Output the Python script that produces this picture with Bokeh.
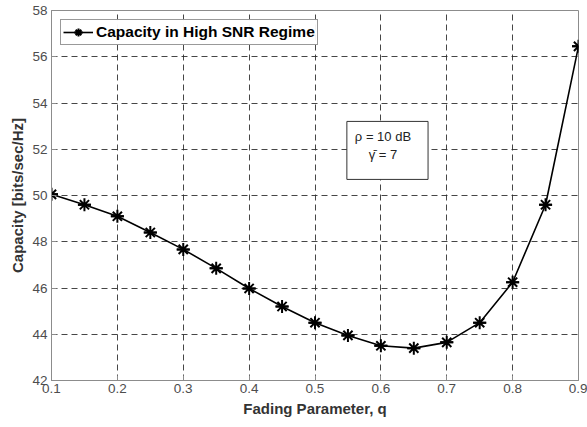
from bokeh.plotting import figure
from bokeh.models import ColumnDataSource, Legend, LegendItem, Label, FixedTicker, Range1d
from bokeh.embed import file_html
from bokeh.resources import INLINE

q = [0.1, 0.15, 0.2, 0.25, 0.3, 0.35, 0.4, 0.45, 0.5, 0.55, 0.6, 0.65, 0.7, 0.75, 0.8, 0.85, 0.9]
capacity = [50.05, 49.6, 49.1, 48.4, 47.67, 46.85, 45.98, 45.2, 44.5, 43.95, 43.5, 43.4, 43.65, 44.5, 46.25, 49.6, 56.45]
x_ticks = [0.1, 0.2, 0.3, 0.4, 0.5, 0.6, 0.7, 0.8, 0.9]
y_ticks = [42, 44, 46, 48, 50, 52, 54, 56, 58]

FONT = "Liberation Sans"

p = figure(width=587, height=427, output_backend="svg", toolbar_location=None,
           x_range=Range1d(0.1, 0.9), y_range=Range1d(42, 58),
           min_border_left=51, min_border_right=9, min_border_top=10, min_border_bottom=47)
p.background_fill_color = "white"
p.border_fill_color = "white"
p.outline_line_color = "#8c8c8c"
p.outline_line_width = 1

src = ColumnDataSource(dict(q=q, c=capacity))
line = p.line("q", "c", source=src, line_color="black", line_width=1.6)
m1 = p.scatter("q", "c", source=src, marker="asterisk", size=13, line_color="black", line_width=2)
m2 = p.scatter("q", "c", source=src, marker="dash", size=13, line_color="black", line_width=2)

for ax in (p.xaxis[0], p.yaxis[0]):
    ax.axis_line_color = "#8c8c8c"
    ax.major_tick_in = 5
    ax.major_tick_out = 0
    ax.minor_tick_line_color = None
    ax.major_tick_line_color = "#8c8c8c"
    ax.major_label_text_font = FONT
    ax.major_label_text_font_size = "13.5px"
    ax.major_label_text_color = "#4d4d4d"
    ax.axis_label_text_font = FONT
    ax.axis_label_text_font_size = "15px"
    ax.axis_label_text_font_style = "bold"
    ax.axis_label_text_color = "#333333"

p.xaxis.ticker = FixedTicker(ticks=x_ticks)
p.yaxis.ticker = FixedTicker(ticks=y_ticks)
p.xaxis.axis_label = "Fading Parameter, q"
p.yaxis.axis_label = "Capacity [bits/sec/Hz]"
p.xaxis.major_label_standoff = 3
p.yaxis.major_label_standoff = 4
p.xaxis.axis_label_standoff = 4
p.yaxis.axis_label_standoff = 3

p.xgrid.ticker = FixedTicker(ticks=x_ticks)
p.ygrid.ticker = FixedTicker(ticks=y_ticks)
for g in (p.xgrid[0], p.ygrid[0]):
    g.grid_line_color = "#262626"
    g.grid_line_alpha = 0.85
    g.grid_line_dash = "6 4"
    g.grid_line_width = 1

legend = Legend(items=[LegendItem(label="Capacity in High SNR Regime", renderers=[line, m1, m2])],
                location="top_left")
legend.label_text_font = FONT
legend.label_text_font_style = "bold"
legend.label_text_font_size = "15.5px"
legend.label_text_color = "black"
legend.border_line_color = "#333333"
legend.border_line_width = 1
legend.margin = 9
legend.padding = 2
legend.spacing = 0
legend.glyph_width = 30
legend.label_standoff = 3
p.add_layout(legend)

info = Label(x=0.61, y=51.95, text="ρ = 10 dB\nγ̄ = 7", text_align="center", text_baseline="middle",
             text_font=FONT, text_font_size="13px", text_color="#222222",
             border_line_color="#333333", border_line_width=1,
             background_fill_color="white", padding=[8, 17, 8, 17])
p.add_layout(info)

open("out.html", "w").write(file_html(p, INLINE))
